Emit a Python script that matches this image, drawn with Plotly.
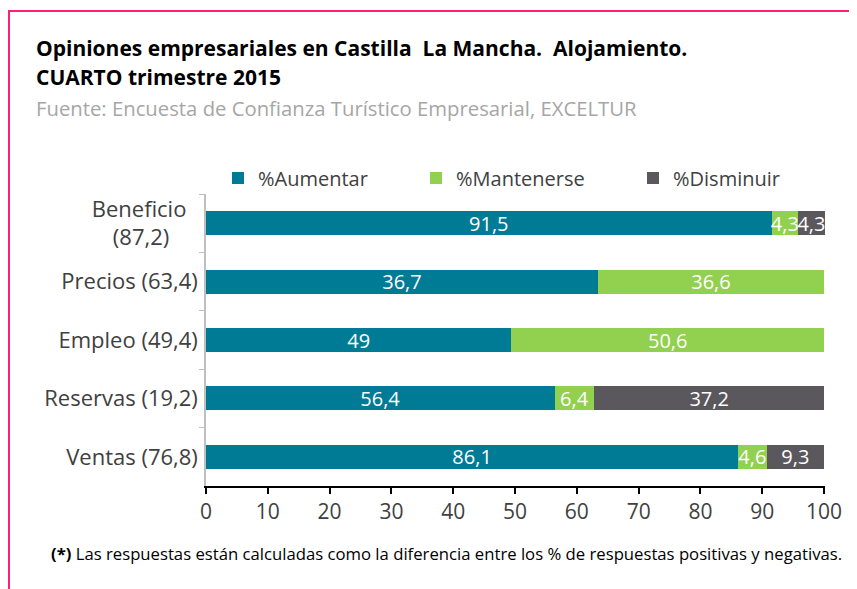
import plotly.graph_objects as go

NB = "\u00a0"
categorias = ["Beneficio" + NB * 2 + "<br>(87,2)" + NB * 5, "Precios (63,4)", "Empleo (49,4)", "Reservas (19,2)", "Ventas (76,8)"]
aumentar = [91.5, 63.4, 49.4, 56.4, 86.1]
aumentar_txt = ["91,5", "36,7", "49", "56,4", "86,1"]
mantenerse = [4.3, 36.6, 50.6, 6.4, 4.6]
disminuir = [4.3, None, None, 37.2, 9.3]
ticks_x = list(range(0, 101, 10))

def etiquetas(vals):
    return ["" if v is None else f"{v:g}".replace(".", ",") for v in vals]

FONT = "Open Sans"
OFF = 8  # la pagina tiene margen de 8px
W, H = 857, 589
L, R, T, B = 206 - OFF, 857 - 825 + OFF, 194 - OFF, 589 - 486 + OFF
pw = W - L - R
ph = H - T - B

# posiciones del dibujo de referencia -> coordenadas paper
def px(x):
    return (x - OFF - L) / pw

def py(y):
    return (H - B - (y - OFF)) / ph

fig = go.Figure()
series = [
    ("%Aumentar", aumentar, aumentar_txt, "#007b96", "legend", 258),
    ("%Mantenerse", mantenerse, etiquetas(mantenerse), "#92d050", "legend2", 456),
    ("%Disminuir", disminuir, etiquetas(disminuir), "#5a575d", "legend3", 673),
]
leyendas = {}
for nombre, vals, txt, col, leg, xt in series:
    fig.add_trace(go.Bar(
        y=categorias, x=vals, name=nombre, orientation="h", legend=leg,
        marker=dict(color=col, line=dict(width=0)),
        text=txt, textposition="inside", insidetextanchor="middle", textangle=0,
        constraintext="none", cliponaxis=False,
        textfont=dict(color="white", size=20, family=FONT),
    ))
    leyendas[leg] = dict(orientation="h", x=px(xt - 40), xanchor="left", y=py(178), yanchor="middle",
                         bgcolor="rgba(0,0,0,0)",
                         font=dict(size=20, color="#404040", family=FONT))

fig.update_layout(
    width=W, height=H,
    margin=dict(l=L, r=R, t=T, b=B, autoexpand=False),
    barmode="stack", bargap=0.59,
    plot_bgcolor="white", paper_bgcolor="white",
    font=dict(family=FONT, size=18, color="#404040"),
    uniformtext=dict(mode="show", minsize=20),
    showlegend=True,
    **leyendas,
)
fig.update_xaxes(range=[0, 100.15], tickvals=ticks_x, showgrid=False, zeroline=False, automargin=False,
                 showline=True, linecolor="black", linewidth=2,
                 ticks="outside", tickcolor="black", ticklen=6, tickwidth=1.5,
                 tickfont=dict(size=21, color="#404040"))
fig.update_yaxes(autorange="reversed", showgrid=False, zeroline=False, automargin=False,
                 showline=True, linecolor="#bfbfbf", linewidth=1.5,
                 ticks="outside", tickson="boundaries", tickcolor="#bfbfbf", ticklen=5,
                 tickfont=dict(size=22, color="#404040"), ticklabelstandoff=2)

fig.add_annotation(x=px(34), y=py(48), xref="paper", yref="paper", xanchor="left", yanchor="middle",
                   text="<b>Opiniones empresariales en Castilla  La Mancha.  Alojamiento.</b>",
                   showarrow=False, font=dict(size=21, color="black", family=FONT))
fig.add_annotation(x=px(34), y=py(77), xref="paper", yref="paper", xanchor="left", yanchor="middle",
                   text="<b>CUARTO trimestre 2015</b>",
                   showarrow=False, font=dict(size=21, color="black", family=FONT))
fig.add_annotation(x=px(34), y=py(108), xref="paper", yref="paper", xanchor="left", yanchor="middle",
                   text="Fuente: Encuesta de Confianza Turístico Empresarial, EXCELTUR",
                   showarrow=False, font=dict(size=20.3, color="#a6a6a6", family=FONT))
fig.add_annotation(x=px(49), y=py(553), xref="paper", yref="paper", xanchor="left", yanchor="middle",
                   text="<b>(*)</b> Las respuestas están calculadas como la diferencia entre los % de respuestas positivas y negativas.",
                   showarrow=False, font=dict(size=16.7, color="black", family=FONT))

# marco rosa
fig.add_shape(type="line", xref="paper", yref="paper", x0=px(8), x1=px(870), y0=py(11), y1=py(11),
              line=dict(color="#ff1f7a", width=2))
fig.add_shape(type="line", xref="paper", yref="paper", x0=px(9), x1=px(9), y0=py(11), y1=py(600),
              line=dict(color="#ff1f7a", width=2))

fig.write_html("out.html")
